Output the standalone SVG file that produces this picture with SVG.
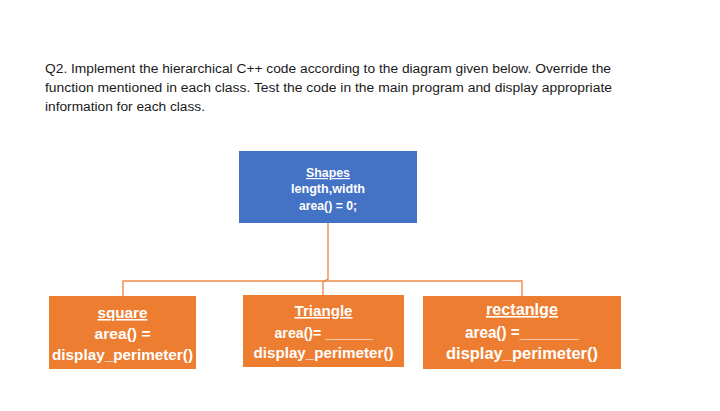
<svg xmlns="http://www.w3.org/2000/svg" width="720" height="411" viewBox="0 0 720 411">
<style>
.q{font-family:"Liberation Sans",Arial,sans-serif;font-size:12.5px;fill:#1a1a1a}
.t{font-family:"Liberation Sans",Arial,sans-serif;font-weight:bold;fill:#fff;text-anchor:middle}
.u{text-decoration:underline}
.blue{fill:#4472C4}
.org{fill:#ED7D31}
.ln{fill:none;stroke:#EE8A4A;stroke-width:1.4}
</style>
<rect width="720" height="411" fill="#fff"/>
<g id="question">
<text class="q" x="45" y="73" textLength="566" lengthAdjust="spacingAndGlyphs">Q2. Implement the hierarchical C++ code according to the diagram given below. Override the</text>
<text class="q" x="45" y="92" textLength="567" lengthAdjust="spacingAndGlyphs">function mentioned in each class. Test the code in the main program and display appropriate</text>
<text class="q" x="45" y="111" textLength="160" lengthAdjust="spacingAndGlyphs">information for each class.</text>
</g>
<g id="connectors">
<path class="ln" d="M328,223 V279 L323,282 V295"/>
<path class="ln" d="M123,296 V281 H522 V296"/>
</g>
<g id="shapes">
<rect class="blue" x="239" y="151" width="178" height="72"/>
<text class="t u" x="328" y="177" font-size="12" textLength="44" lengthAdjust="spacingAndGlyphs">Shapes</text>
<text class="t" x="328" y="193" font-size="12" textLength="74" lengthAdjust="spacingAndGlyphs">length,width</text>
<text class="t" x="328" y="210" font-size="12" textLength="58" lengthAdjust="spacingAndGlyphs">area() = 0;</text>
</g>
<g id="square">
<rect class="org" x="49" y="296" width="147" height="73"/>
<text class="t u" x="122.5" y="318" font-size="15.5" textLength="50" lengthAdjust="spacingAndGlyphs">square</text>
<text class="t" x="122.5" y="339" font-size="15.5" textLength="56" lengthAdjust="spacingAndGlyphs">area() =</text>
<text class="t" x="122.5" y="360" font-size="15.5" textLength="141" lengthAdjust="spacingAndGlyphs">display_perimeter()</text>
</g>
<g id="triangle">
<rect class="org" x="243" y="295" width="161" height="72"/>
<text class="t u" x="323.5" y="316" font-size="15.5" textLength="58" lengthAdjust="spacingAndGlyphs">Triangle</text>
<text class="t" x="323.5" y="338" font-size="15.5" textLength="98" lengthAdjust="spacingAndGlyphs">area()= ______</text>
<text class="t" x="323.5" y="358" font-size="15.5" textLength="140" lengthAdjust="spacingAndGlyphs">display_perimeter()</text>
</g>
<g id="rectangle">
<rect class="org" x="423" y="296" width="198" height="73"/>
<text class="t u" x="522" y="315" font-size="16.5" textLength="72" lengthAdjust="spacingAndGlyphs">rectanlge</text>
<text class="t" x="522" y="338" font-size="16.5" textLength="114" lengthAdjust="spacingAndGlyphs">area() =_______</text>
<text class="t" x="522" y="359" font-size="16.5" textLength="152" lengthAdjust="spacingAndGlyphs">display_perimeter()</text>
</g>
</svg>
